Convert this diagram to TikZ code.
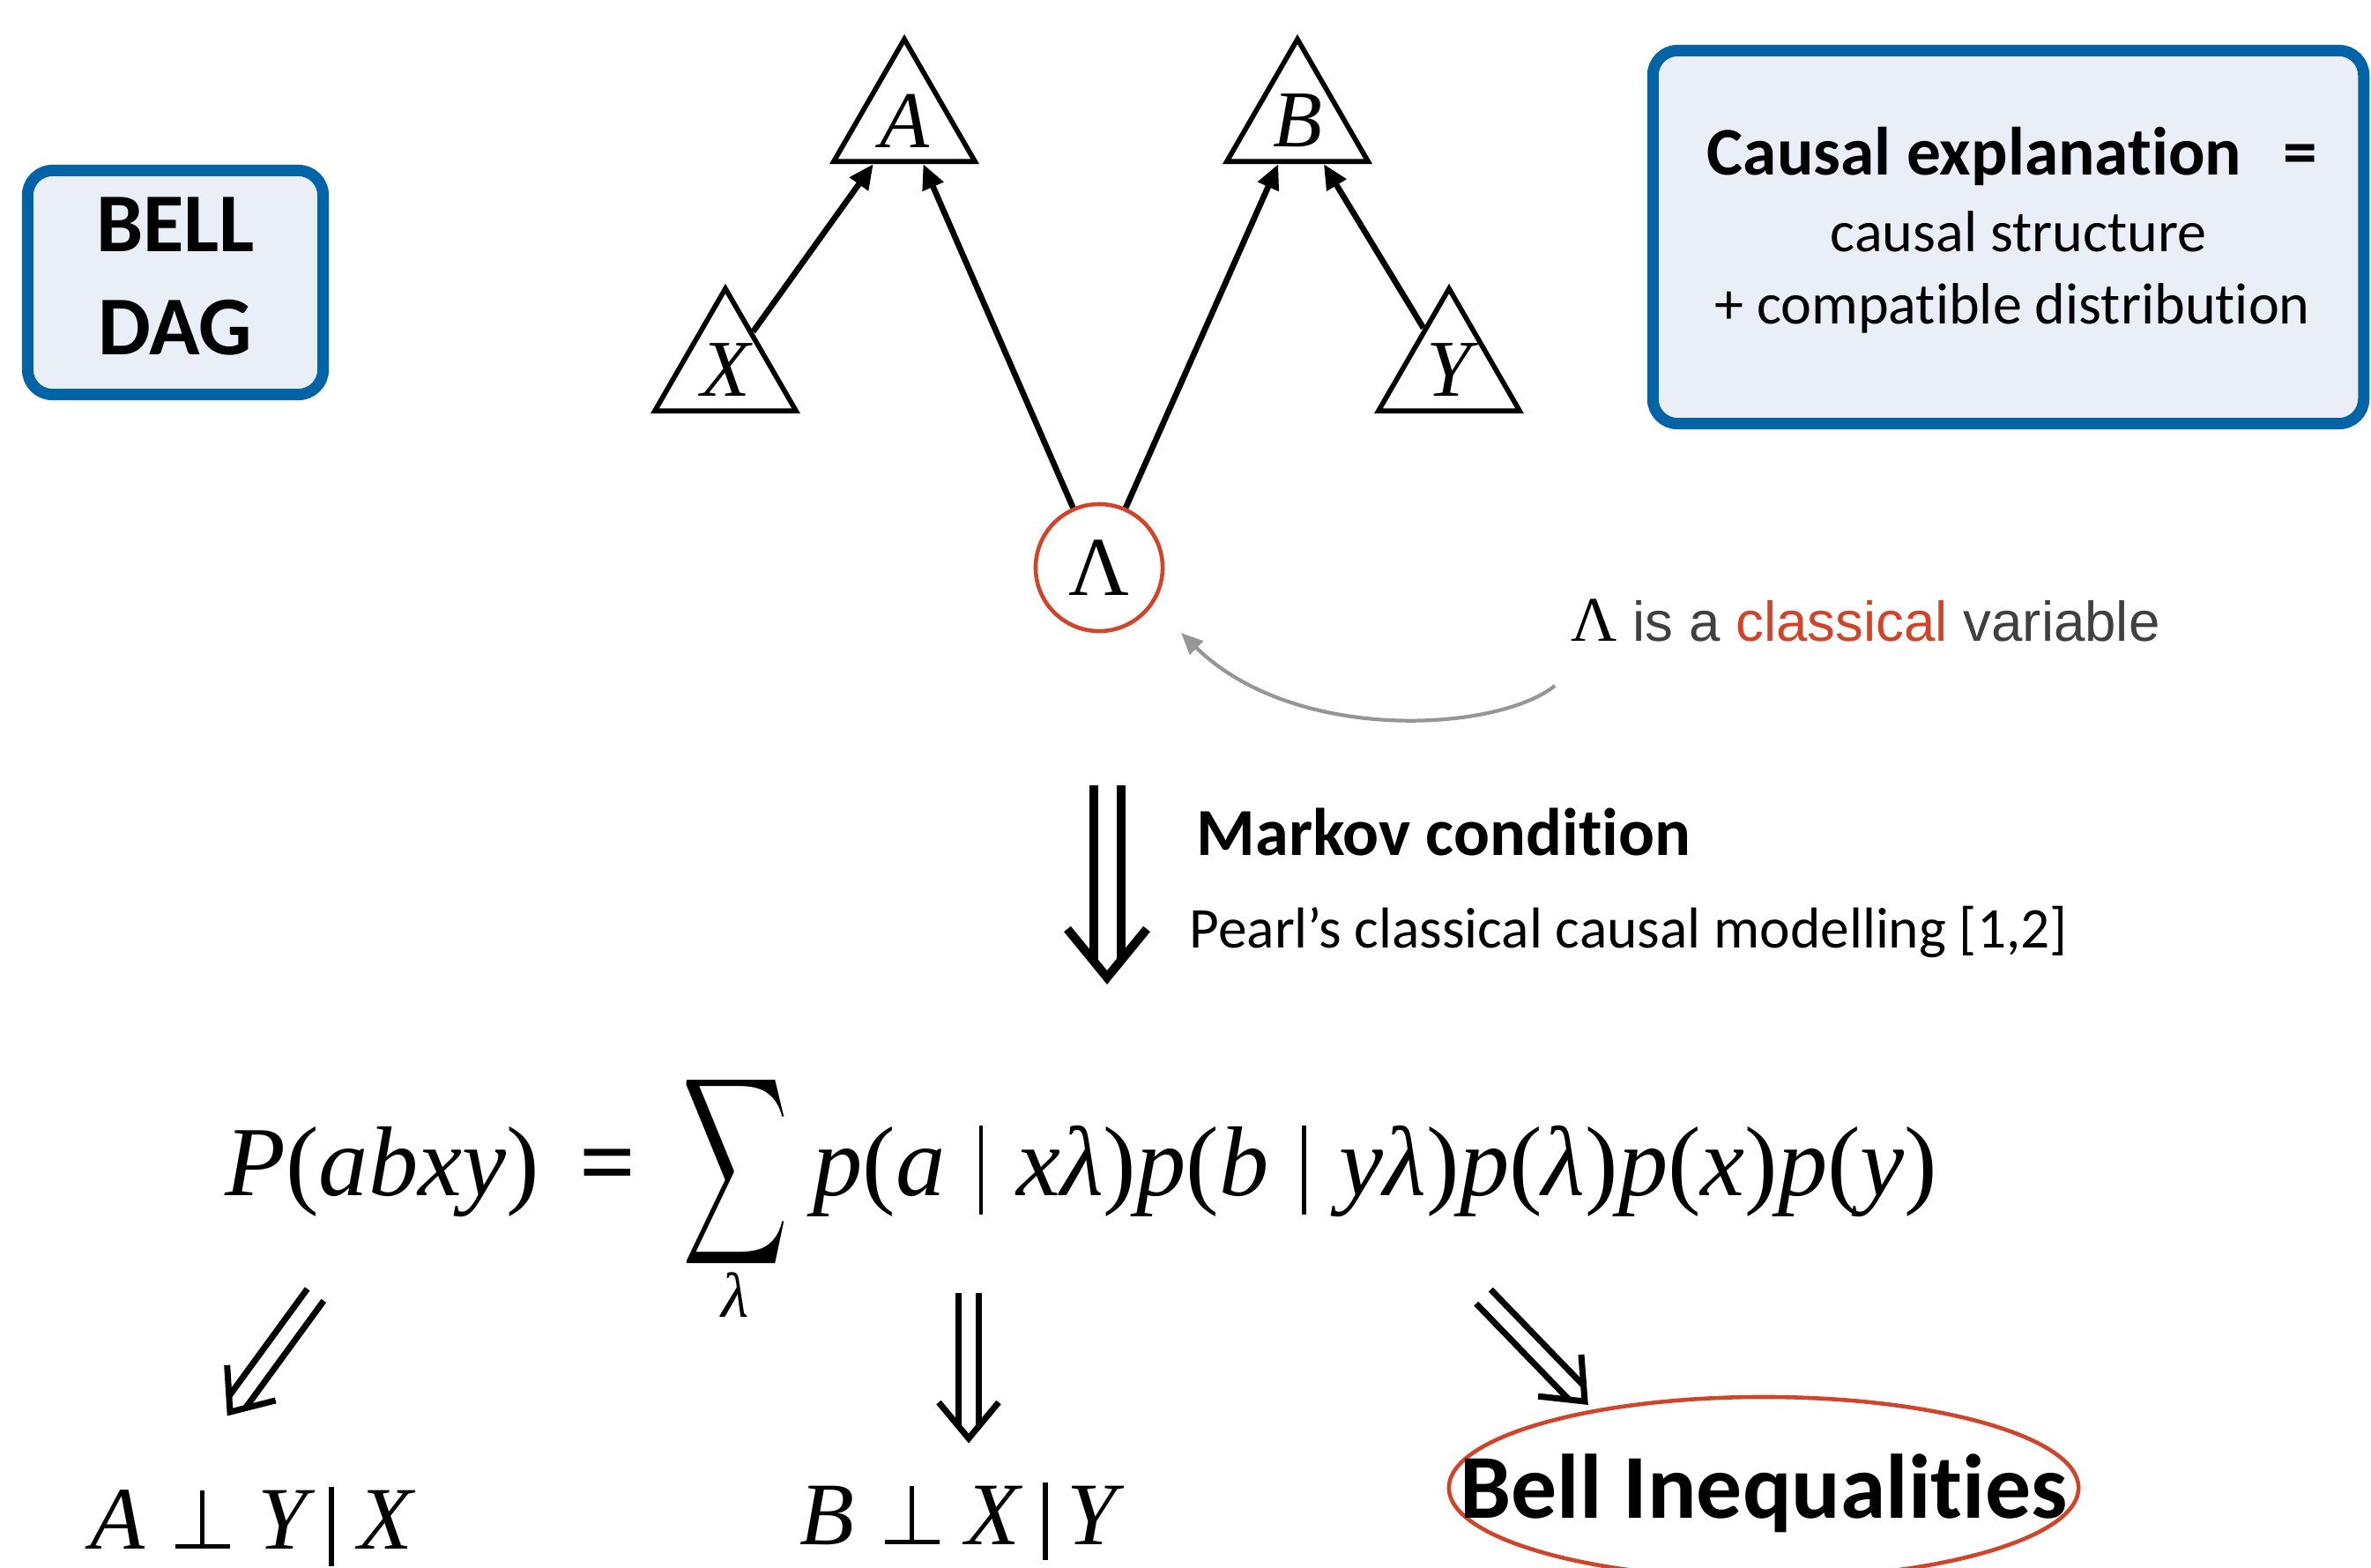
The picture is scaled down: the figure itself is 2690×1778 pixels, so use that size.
\documentclass[tikz,border=0pt]{standalone}
\usepackage{fontspec}
\setmainfont{Carlito}[Ligatures=NoCommon]
\newfontfamily\tms{Liberation Serif}
\newfontfamily\ari{Liberation Sans}
\usetikzlibrary{shapes.geometric,arrows.meta,calc}
\definecolor{bxblue}{RGB}{3,99,167}
\definecolor{bxfill}{RGB}{233,238,247}
\definecolor{cred}{RGB}{208,68,42}
\definecolor{cgrey}{RGB}{64,64,64}
\definecolor{agrey}{RGB}{150,150,150}
\newcommand\itx[1]{{\itshape #1}}
\newcommand\vbar{\hspace{0.38cm}\rule[-0.22cm]{0.045cm}{1.01cm}\hspace{0.38cm}}
\newcommand\perpx{\makebox[0.62cm][l]{\rule{0.62cm}{0.05cm}\hspace{-0.335cm}\rule{0.05cm}{0.66cm}}}
% double arrow: start, tip, line width, half spacing, head half width, head length, line end back
\newcommand\dblarrow[7]{%
  \coordinate (da-b) at ($(#2)!#7!(#1)$);
  \coordinate (da-h) at ($(#2)!#6!(#1)$);
  \draw[line width=#3] ($(#1)!#4!90:(#2)$) -- ($(da-b)!#4!90:(#2)$);
  \draw[line width=#3] ($(#1)!#4!-90:(#2)$) -- ($(da-b)!#4!-90:(#2)$);
  \draw[line width=#3, miter limit=10] ($(da-h)!#5!90:(#2)$) -- (#2) -- ($(da-h)!#5!-90:(#2)$);
}
\begin{document}
\begin{tikzpicture}[x=0.01cm,y=-0.01cm,
  tri/.style={regular polygon, regular polygon sides=3, draw, line width=1.6pt,
    minimum size=1.85cm, inner sep=0pt, font=\tms\itshape\fontsize{26}{30}\selectfont},
  dagarr/.style={line width=1.9pt, -{Triangle[length=8pt,width=7pt]}},
  bluebox/.style={draw=bxblue, fill=bxfill, line width=3.7pt, rounded corners=0.28cm, inner sep=0pt},
  fml/.style={anchor=base west, inner sep=0pt, font=\tms\fontsize{32}{38}\selectfont},
  ind/.style={anchor=base west, inner sep=0pt, font=\tms\fontsize{28.8}{34}\selectfont}
]
\useasboundingbox (0,0) rectangle (2690,1778);

% boxes
\node[bluebox, minimum width=3.35cm, minimum height=2.54cm] (bbox) at (199,320.5) {};
\node[anchor=base, inner sep=0pt, font=\bfseries\fontsize{27}{32}\selectfont] (bell1) at (199,285) {BELL};
\node[anchor=base, inner sep=0pt, font=\bfseries\fontsize{27}{32}\selectfont] (bell2) at (199,402) {DAG};

\node[bluebox, minimum width=8.06cm, minimum height=4.23cm] (cbox) at (2278.5,269) {};
\node[anchor=base, inner sep=0pt, font=\bfseries\fontsize{22}{26}\selectfont] (ce1) at (2283,198) {Causal explanation\hspace{0.3cm} =};
\node[anchor=base, inner sep=0pt, font=\fontsize{18.8}{22}\selectfont] (ce2) at (2290,285) {causal structure};
\node[anchor=base, inner sep=0pt, font=\fontsize{18.8}{22}\selectfont] (ce3) at (2283,367) {+ compatible distribution};

% DAG
\node[tri] (A) at (1026,137) {A};
\node[tri] (B) at (1472,137) {B};
\node[tri] (X) at (823,420) {X};
\node[tri] (Y) at (1644,420) {Y};
\node[circle, draw=cred, line width=1.3pt, minimum size=1.44cm, inner sep=0pt,
  font=\tms\fontsize{27}{30}\selectfont] (L) at (1247,644) {Λ};
\draw[dagarr] (X) -- (A);
\draw[dagarr] (L) -- (A);
\draw[dagarr] (L) -- (B);
\draw[dagarr] (Y) -- (B);

% Lambda label
\node[anchor=base west, inner sep=0pt, font=\ari\fontsize{18.1}{22}\selectfont, text=cgrey] (lbl) at (1782,727)
  {{\tms\color{black}\fontsize{20.5}{24}\selectfont Λ} is a \textcolor{cred}{classical} variable};
\coordinate (gs) at (1764,778);
\coordinate (ge) at (1340,718);
\draw[agrey, line width=1.2pt, -{Triangle[length=7pt,width=6pt]}] (gs) .. controls (1700,830) and (1470,845) .. (ge);

% Markov arrow
\coordinate (mks) at (1256,891);
\coordinate (mke) at (1256,1109);
\dblarrow{mks}{mke}{0.1cm}{0.155cm}{0.45cm}{0.55cm}{0.19cm}
\node[anchor=base west, inner sep=0pt, font=\bfseries\fontsize{21.7}{25}\selectfont] (mk) at (1357,970) {Markov condition};
\node[anchor=base west, inner sep=0pt, font=\fontsize{18.6}{22}\selectfont] (pearl) at (1349,1075) {Pearl’s classical causal modelling [1,2]};

% formula
\node[fml] (lhs) at (255,1356) {\itx{P}(\itx{abxy})};
\node[fml] (eq) at (657,1356) {\bfseries =};
\node[inner sep=0pt] (sum) at (835,1330) {\resizebox{1.2cm}{1.56cm}{$\displaystyle\sum$}};
\node[inner sep=0pt, font=\tms\itshape\fontsize{20.5}{24}\selectfont] (sidx) at (834,1469) {λ};
\node[fml] (rhs) at (922,1356) {\itx{p}(\itx{a}\vbar\itx{xλ})\itx{p}(\itx{b}\vbar\itx{yλ})\itx{p}(\itx{λ})\itx{p}(\itx{x})\itx{p}(\itx{y})};

% lower arrows
\coordinate (a1s) at (358,1469);
\coordinate (a1e) at (261,1602);
\coordinate (a2s) at (1099,1467);
\coordinate (a2e) at (1099,1632);
\coordinate (a3s) at (1683,1471);
\coordinate (a3e) at (1798,1590);
\dblarrow{a1s}{a1e}{0.07cm}{0.115cm}{0.34cm}{0.41cm}{0.14cm}
\dblarrow{a2s}{a2e}{0.07cm}{0.115cm}{0.34cm}{0.41cm}{0.14cm}
\dblarrow{a3s}{a3e}{0.07cm}{0.115cm}{0.34cm}{0.41cm}{0.14cm}

% results
\node[ind] (ind1) at (102,1757) {\itx{A}\hspace{0.34cm}\perpx\hspace{0.32cm}\itx{Y}\hspace{0.24cm}\rule[-0.2cm]{0.06cm}{0.9cm}\hspace{0.27cm}\itx{X}};
\node[ind] (ind2) at (907,1752) {\itx{B}\hspace{0.34cm}\perpx\hspace{0.3cm}\itx{X}\hspace{0.25cm}\rule[-0.18cm]{0.06cm}{0.88cm}\hspace{0.22cm}\itx{Y}};
\node[ellipse, draw=cred, line width=1.3pt, minimum width=7.14cm, minimum height=2.06cm, inner sep=0pt] (bellell) at (2001,1688) {};
\node[anchor=base, inner sep=0pt, font=\bfseries\fontsize{29.5}{34}\selectfont] (bellin) at (2001,1722) {Bell Inequalities};
\end{tikzpicture}
\end{document}
